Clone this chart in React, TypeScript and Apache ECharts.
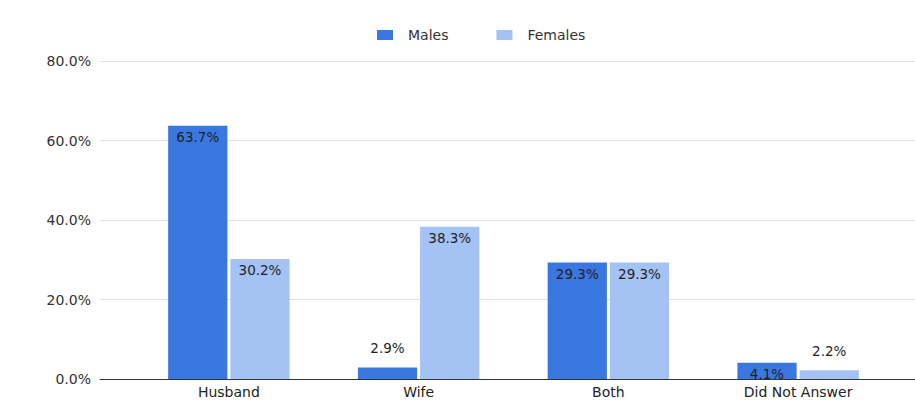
import React, { useEffect, useRef } from "react";
import * as echarts from "echarts";

const categories = ["Husband", "Wife", "Both", "Did Not Answer"];
const males = [63.7, 2.9, 29.3, 4.1];
const females = [30.2, 38.3, 29.3, 2.2];
const maleLabelPos = ["insideTop", "top", "insideTop", "insideTop"];
const femaleLabelPos = ["insideTop", "insideTop", "insideTop", "top"];
const yTicks = [0, 20, 40, 60, 80];

const FONT = "'DejaVu Sans', Verdana, sans-serif";

export default function App() {
  const ref = useRef<HTMLDivElement>(null);
  useEffect(() => {
    if (!ref.current) return;
    const chart = echarts.init(ref.current, null, { renderer: "svg" });
    const mk = (vals: number[], pos: string[]) =>
      vals.map((v, i) => ({
        value: v,
        label: { position: pos[i] as any, distance: pos[i] === "top" ? 12 : 4 },
      }));
    const lbl = {
      show: true,
      color: "#1f1f1f",
      fontSize: 13.5,
      fontFamily: FONT,
      formatter: (p: any) => p.value.toFixed(1) + "%",
    };
    chart.setOption({
      animation: false,
      textStyle: { fontFamily: FONT },
      legend: {
        top: 23,
        left: 372,
        itemWidth: 16,
        itemHeight: 10,
        itemGap: 48,
        icon: "rect",
        textStyle: { color: "#333", fontSize: 14, fontFamily: FONT, padding: [0, 0, 0, 10] },
        data: ["Males", "Females"],
      },
      grid: [
        { left: 100, right: 0, top: 61, bottom: 28 },
        { left: 134, right: 22, top: 61, bottom: 28 },
      ],
      xAxis: [
        {
          type: "category",
          gridIndex: 0,
          data: [""],
          axisLine: { show: true, lineStyle: { color: "#333", width: 1 } },
          axisTick: { show: false },
          axisLabel: { show: false },
        },
        {
          type: "category",
          gridIndex: 1,
          data: categories,
          axisLine: { show: false },
          axisTick: { show: false },
          axisLabel: { color: "#222", fontSize: 14, fontFamily: FONT, margin: 6 },
        },
      ],
      yAxis: [
        {
          type: "value",
          gridIndex: 0,
          min: yTicks[0],
          max: yTicks[yTicks.length - 1],
          interval: 20,
          axisLine: { show: false },
          axisTick: { show: false },
          axisLabel: {
            color: "#333",
            fontSize: 14,
            fontFamily: FONT,
            margin: 9,
            formatter: (v: number) => v.toFixed(1) + "%",
          },
          splitLine: { lineStyle: { color: "#e2e2e2" } },
        },
        {
          type: "value",
          gridIndex: 1,
          min: 0,
          max: 80,
          interval: 20,
          show: false,
          splitLine: { show: false },
        },
      ],
      series: [
        {
          name: "Males",
          type: "bar",
          xAxisIndex: 1,
          yAxisIndex: 1,
          data: mk(males, maleLabelPos),
          itemStyle: { color: "#3b77e0" },
          barGap: "5%",
          barCategoryGap: "36%",
          label: lbl,
        },
        {
          name: "Females",
          type: "bar",
          xAxisIndex: 1,
          yAxisIndex: 1,
          data: mk(females, femaleLabelPos),
          itemStyle: { color: "#a4c2f4" },
          barGap: "5%",
          barCategoryGap: "36%",
          label: lbl,
        },
      ],
    });
    return () => chart.dispose();
  }, []);
  return <div ref={ref} style={{ width: 915, height: 407, position: "absolute", left: 0, top: 0 }} />;
}
